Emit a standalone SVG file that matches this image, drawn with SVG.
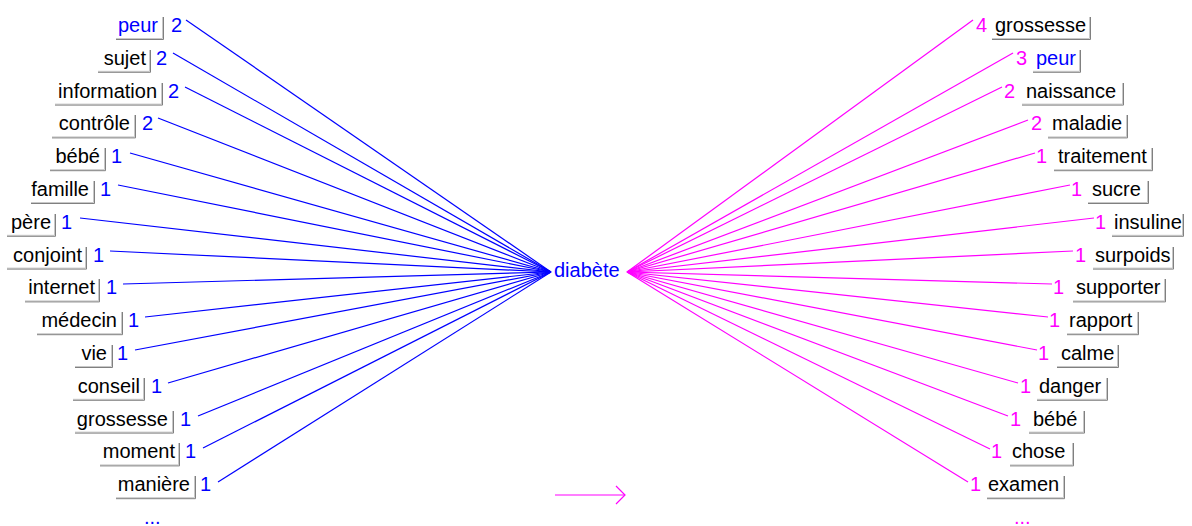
<svg xmlns="http://www.w3.org/2000/svg" width="1192" height="526" viewBox="0 0 1192 526">
<style>
text{font-family:"Liberation Sans",Arial,sans-serif;font-size:20px}
.lbl{fill:#000}
.blu{fill:#0000ff}
.mag{fill:#ff00ff}
.r{text-anchor:end}
.bd{fill:none;stroke:#808080;stroke-width:1}
.bl{fill:none;stroke:#c8c8c8;stroke-width:1}
.cb{stroke:#0000ff;stroke-width:1.2}
.cm{stroke:#ff00ff;stroke-width:1.2}
</style>
<rect width="1192" height="526" fill="#fff"/>
<g id="connectors">
<g class="cb">
<line x1="186" y1="20" x2="551" y2="272"/>
<line x1="173" y1="53" x2="551" y2="272"/>
<line x1="185" y1="87" x2="551" y2="272"/>
<line x1="158" y1="118" x2="551" y2="272"/>
<line x1="130" y1="153" x2="551" y2="272"/>
<line x1="118" y1="185" x2="551" y2="272"/>
<line x1="80" y1="218" x2="551" y2="272"/>
<line x1="110" y1="251" x2="551" y2="272"/>
<line x1="123" y1="284" x2="551" y2="272"/>
<line x1="145" y1="317" x2="551" y2="272"/>
<line x1="135" y1="350" x2="551" y2="272"/>
<line x1="168" y1="383" x2="551" y2="272"/>
<line x1="198" y1="416" x2="551" y2="272"/>
<line x1="203" y1="448" x2="551" y2="272"/>
<line x1="218" y1="482" x2="551" y2="272"/>
</g>
<g class="cm">
<line x1="627" y1="272" x2="973" y2="20"/>
<line x1="627" y1="272" x2="1013" y2="53"/>
<line x1="627" y1="272" x2="1002" y2="87"/>
<line x1="627" y1="272" x2="1028" y2="120"/>
<line x1="627" y1="272" x2="1035" y2="153"/>
<line x1="627" y1="272" x2="1070" y2="185"/>
<line x1="627" y1="272" x2="1094" y2="218"/>
<line x1="627" y1="272" x2="1073" y2="251"/>
<line x1="627" y1="272" x2="1052" y2="284"/>
<line x1="627" y1="272" x2="1048" y2="317"/>
<line x1="627" y1="272" x2="1037" y2="350"/>
<line x1="627" y1="272" x2="1018" y2="383"/>
<line x1="627" y1="272" x2="1008" y2="416"/>
<line x1="627" y1="272" x2="990" y2="449"/>
<line x1="627" y1="272" x2="968" y2="482"/>
</g>
<g id="legend-arrow" class="cm" fill="none" stroke-width="1.6">
<line x1="555" y1="495" x2="625" y2="495"/>
<polyline points="616,486 625,495 616,504"/>
</g>
</g>
<g id="center"><text class="blu" x="554" y="277">diabète</text></g>

<g id="left-0"><path class="bl" d="M116 38.5H162.5V17"/><path class="bd" d="M116 39.5H163.5V17"/><text class="blu r" x="158" y="32">peur</text><text class="blu" x="171" y="32">2</text></g>
<g id="left-1"><path class="bl" d="M98 71.3H149.5V50"/><path class="bd" d="M98 72.3H150.5V50"/><text class="lbl r" x="146" y="64.8">sujet</text><text class="blu" x="156" y="64.8">2</text></g>
<g id="left-2"><path class="bl" d="M55 104.1H161.5V83"/><path class="bd" d="M55 105.1H162.5V83"/><text class="lbl r" x="157" y="97.6">information</text><text class="blu" x="168" y="97.6">2</text></g>
<g id="left-3"><path class="bl" d="M52 136.9H134.5V115"/><path class="bd" d="M52 137.9H135.5V115"/><text class="lbl r" x="130" y="130.4">contrôle</text><text class="blu" x="142" y="130.4">2</text></g>
<g id="left-4"><path class="bl" d="M50 169.7H104.5V148"/><path class="bd" d="M50 170.7H105.5V148"/><text class="lbl r" x="100" y="163.2">bébé</text><text class="blu" x="111" y="163.2">1</text></g>
<g id="left-5"><path class="bl" d="M31 202.5H93.5V181"/><path class="bd" d="M31 203.5H94.5V181"/><text class="lbl r" x="89" y="196">famille</text><text class="blu" x="100" y="196">1</text></g>
<g id="left-6"><path class="bl" d="M7 235.3H54.5V214"/><path class="bd" d="M7 236.3H55.5V214"/><text class="lbl r" x="51" y="228.8">père</text><text class="blu" x="61" y="228.8">1</text></g>
<g id="left-7"><path class="bl" d="M7 268.1H85.5V247"/><path class="bd" d="M7 269.1H86.5V247"/><text class="lbl r" x="82" y="261.6">conjoint</text><text class="blu" x="93" y="261.6">1</text></g>
<g id="left-8"><path class="bl" d="M25 300.9H98.5V279"/><path class="bd" d="M25 301.9H99.5V279"/><text class="lbl r" x="95" y="294.4">internet</text><text class="blu" x="106" y="294.4">1</text></g>
<g id="left-9"><path class="bl" d="M37 333.7H121.5V312"/><path class="bd" d="M37 334.7H122.5V312"/><text class="lbl r" x="117" y="327.2">médecin</text><text class="blu" x="128" y="327.2">1</text></g>
<g id="left-10"><path class="bl" d="M75 366.5H111.5V345"/><path class="bd" d="M75 367.5H112.5V345"/><text class="lbl r" x="107" y="360">vie</text><text class="blu" x="117" y="360">1</text></g>
<g id="left-11"><path class="bl" d="M73 399.3H143.5V378"/><path class="bd" d="M73 400.3H144.5V378"/><text class="lbl r" x="140" y="392.8">conseil</text><text class="blu" x="151" y="392.8">1</text></g>
<g id="left-12"><path class="bl" d="M75 432.1H172.5V411"/><path class="bd" d="M75 433.1H173.5V411"/><text class="lbl r" x="168" y="425.6">grossesse</text><text class="blu" x="180" y="425.6">1</text></g>
<g id="left-13"><path class="bl" d="M100 464.9H178.5V443"/><path class="bd" d="M100 465.9H179.5V443"/><text class="lbl r" x="175" y="458.4">moment</text><text class="blu" x="185" y="458.4">1</text></g>
<g id="left-14"><path class="bl" d="M116 497.7H194.5V476"/><path class="bd" d="M116 498.7H195.5V476"/><text class="lbl r" x="190" y="491.2">manière</text><text class="blu" x="200" y="491.2">1</text></g>
<g id="left-more"><text class="blu" x="144" y="524">...</text></g>

<g id="right-0"><path class="bl" d="M992 38.5H1089.5V17"/><path class="bd" d="M992 39.5H1090.5V17"/><text class="mag" x="976" y="32">4</text><text class="lbl" x="995" y="32">grossesse</text></g>
<g id="right-1"><path class="bl" d="M1033 71.3H1079.5V50"/><path class="bd" d="M1033 72.3H1080.5V50"/><text class="mag" x="1016" y="64.8">3</text><text class="blu" x="1036" y="64.8">peur</text></g>
<g id="right-2"><path class="bl" d="M1022 104.1H1122.5V83"/><path class="bd" d="M1022 105.1H1123.5V83"/><text class="mag" x="1004" y="97.6">2</text><text class="lbl" x="1026" y="97.6">naissance</text></g>
<g id="right-3"><path class="bl" d="M1048 136.9H1126.5V115"/><path class="bd" d="M1048 137.9H1127.5V115"/><text class="mag" x="1031" y="130.4">2</text><text class="lbl" x="1052" y="130.4">maladie</text></g>
<g id="right-4"><path class="bl" d="M1054 169.7H1151.5V148"/><path class="bd" d="M1054 170.7H1152.5V148"/><text class="mag" x="1036" y="163.2">1</text><text class="lbl" x="1058" y="163.2">traitement</text></g>
<g id="right-5"><path class="bl" d="M1088 202.5H1147.5V181"/><path class="bd" d="M1088 203.5H1148.5V181"/><text class="mag" x="1071" y="196">1</text><text class="lbl" x="1092" y="196">sucre</text></g>
<g id="right-6"><path class="bl" d="M1112 235.3H1182.5V214"/><path class="bd" d="M1112 236.3H1183.5V214"/><text class="mag" x="1095" y="228.8">1</text><text class="lbl" x="1114" y="228.8">insuline</text></g>
<g id="right-7"><path class="bl" d="M1093 268.1H1172.5V247"/><path class="bd" d="M1093 269.1H1173.5V247"/><text class="mag" x="1075" y="261.6">1</text><text class="lbl" x="1095" y="261.6">surpoids</text></g>
<g id="right-8"><path class="bl" d="M1073 300.9H1164.5V279"/><path class="bd" d="M1073 301.9H1165.5V279"/><text class="mag" x="1053" y="294.4">1</text><text class="lbl" x="1076" y="294.4">supporter</text></g>
<g id="right-9"><path class="bl" d="M1067 333.7H1137.5V312"/><path class="bd" d="M1067 334.7H1138.5V312"/><text class="mag" x="1049" y="327.2">1</text><text class="lbl" x="1069" y="327.2">rapport</text></g>
<g id="right-10"><path class="bl" d="M1057 366.5H1117.5V345"/><path class="bd" d="M1057 367.5H1118.5V345"/><text class="mag" x="1038" y="360">1</text><text class="lbl" x="1061" y="360">calme</text></g>
<g id="right-11"><path class="bl" d="M1037 399.3H1106.5V378"/><path class="bd" d="M1037 400.3H1107.5V378"/><text class="mag" x="1020" y="392.8">1</text><text class="lbl" x="1039" y="392.8">danger</text></g>
<g id="right-12"><path class="bl" d="M1029 432.1H1083.5V411"/><path class="bd" d="M1029 433.1H1084.5V411"/><text class="mag" x="1010" y="425.6">1</text><text class="lbl" x="1033" y="425.6">bébé</text></g>
<g id="right-13"><path class="bl" d="M1010 464.9H1072.5V443"/><path class="bd" d="M1010 465.9H1073.5V443"/><text class="mag" x="991" y="458.4">1</text><text class="lbl" x="1012" y="458.4">chose</text></g>
<g id="right-14"><path class="bl" d="M987 497.7H1063.5V476"/><path class="bd" d="M987 498.7H1064.5V476"/><text class="mag" x="970" y="491.2">1</text><text class="lbl" x="988" y="491.2">examen</text></g>
<g id="right-more"><text class="mag" x="1014" y="524">...</text></g>
</svg>
